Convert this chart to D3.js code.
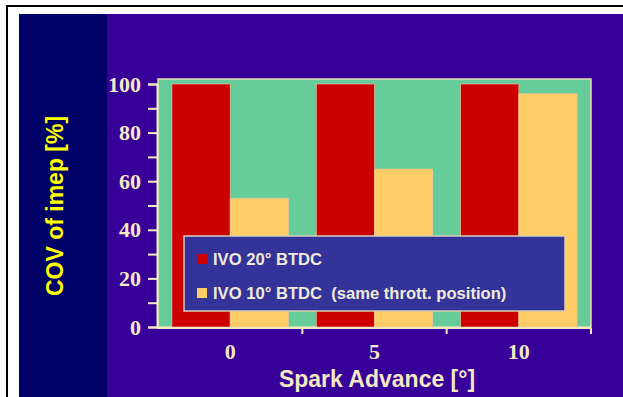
<!DOCTYPE html>
<html>
<head>
<meta charset="utf-8">
<script src="https://cdn.jsdelivr.net/npm/d3@7"></script>
<style>
  html, body { margin: 0; padding: 0; background: #fff; }
  svg { display: block; }
</style>
</head>
<body>
<svg id="chart" width="623" height="397"></svg>
<script>
// data
var categories = ["0", "5", "10"];
var seriesNames = ["IVO 20\u00b0 BTDC", "IVO 10\u00b0 BTDC  (same thrott. position)"];
var ivo20 = [100, 100, 100];
var ivo10 = [53, 65, 96];
var yTicks = [0, 20, 40, 60, 80, 100];
var yMinorTicks = [10, 30, 50, 70, 90];

var colors = ["#cc0000", "#ffcc66"];
var cream = "#f3e9c2";

var svg = d3.select("#chart");

// page frame + slide background
svg.append("rect").attr("x", 7).attr("y", 6).attr("width", 640).attr("height", 420)
  .attr("fill", "#fff").attr("stroke", "#000").attr("stroke-width", 2);
svg.append("rect").attr("x", 19).attr("y", 14).attr("width", 610).attr("height", 390)
  .attr("fill", "#370099");
svg.append("rect").attr("x", 19).attr("y", 14).attr("width", 88).attr("height", 390)
  .attr("fill", "#000066");

var x0 = d3.scaleBand().domain(categories).range([158, 591]);
var x1 = d3.scaleBand().domain([0, 1]).range([0, x0.bandwidth()])
  .paddingInner(0).paddingOuter(0.24);
var y = d3.scaleLinear().domain([0, 100]).range([327, 84]);

// green plot background
svg.append("rect")
  .attr("x", x0.range()[0]).attr("y", y(100) - 5)
  .attr("width", x0.range()[1] - x0.range()[0]).attr("height", y(0) - y(100) + 5)
  .attr("fill", "#66cc99").attr("stroke", "#e8dcb0").attr("stroke-width", 1.5);

// bars
var rows = categories.map(function(c, i) {
  return { cat: c, values: [ivo20[i], ivo10[i]] };
});

svg.append("g").selectAll("g")
  .data(rows)
  .enter().append("g")
  .attr("transform", function(d) { return "translate(" + x0(d.cat) + ",0)"; })
  .selectAll("rect")
  .data(function(d) { return d.values.map(function(v, k) { return { k: k, v: v }; }); })
  .enter().append("rect")
  .attr("x", function(d) { return x1(d.k); })
  .attr("y", function(d) { return y(d.v); })
  .attr("width", x1.bandwidth())
  .attr("height", function(d) { return y(0) - y(d.v); })
  .attr("fill", function(d) { return colors[d.k]; })
  .attr("stroke", "#f0c8a0").attr("stroke-width", 0.6);

// y axis
svg.append("g")
  .attr("transform", "translate(157,0)")
  .call(d3.axisLeft(y).tickValues(yTicks).tickSize(9).tickPadding(7));
svg.append("g")
  .attr("transform", "translate(157,0)")
  .call(d3.axisLeft(y).tickValues(yMinorTicks).tickSize(9).tickFormat(""))
  .select(".domain").remove();

// x axis (labels at band centres, ticks at band edges)
var xAxis = svg.append("g")
  .attr("transform", "translate(0,328)")
  .call(d3.axisBottom(x0).tickSize(0).tickPadding(15));
xAxis.select(".domain").attr("d", "M157,0H591");
svg.append("g").selectAll("line")
  .data(categories)
  .enter().append("line")
  .attr("x1", function(d) { return x0(d) + x0.bandwidth(); })
  .attr("x2", function(d) { return x0(d) + x0.bandwidth(); })
  .attr("y1", 328).attr("y2", 334)
  .attr("stroke", cream).attr("stroke-width", 2);

svg.selectAll(".domain, .tick line").attr("stroke", cream).attr("stroke-width", 2);
svg.selectAll(".tick text")
  .attr("fill", cream)
  .style("font-family", "'Liberation Serif', 'Times New Roman', serif")
  .style("font-weight", "bold")
  .style("font-size", "22px");

// legend
var legend = svg.append("g");
legend.append("rect")
  .attr("x", 184).attr("y", 236).attr("width", 381).attr("height", 75)
  .attr("fill", "#333399").attr("stroke", "#d8cfb8").attr("stroke-width", 1.5);
var items = legend.selectAll("g.item")
  .data(seriesNames)
  .enter().append("g").attr("class", "item")
  .attr("transform", function(d, i) { return "translate(197," + (259 + i * 34) + ")"; });
items.append("rect")
  .attr("x", 0).attr("y", -5).attr("width", 10).attr("height", 10)
  .attr("fill", function(d, i) { return colors[i]; });
items.append("text")
  .attr("x", 16).attr("y", 0).attr("dy", "0.36em")
  .attr("fill", "#f0ead8")
  .style("white-space", "pre")
  .style("font-family", "'Liberation Sans', Arial, sans-serif")
  .style("font-weight", "bold")
  .style("font-size", "16.6px")
  .text(function(d) { return d; });

// axis titles
svg.append("text")
  .attr("x", 377).attr("y", 387)
  .attr("text-anchor", "middle")
  .attr("fill", cream)
  .style("font-family", "'Liberation Sans', Arial, sans-serif")
  .style("font-weight", "bold")
  .style("font-size", "23px")
  .text("Spark Advance [\u00b0]");

svg.append("text")
  .attr("transform", "translate(63,206) rotate(-90)")
  .attr("text-anchor", "middle")
  .attr("fill", "#ffff00")
  .style("font-family", "'Liberation Sans', Arial, sans-serif")
  .style("font-weight", "bold")
  .style("font-size", "23px")
  .text("COV of imep [%]");
</script>
</body>
</html>
